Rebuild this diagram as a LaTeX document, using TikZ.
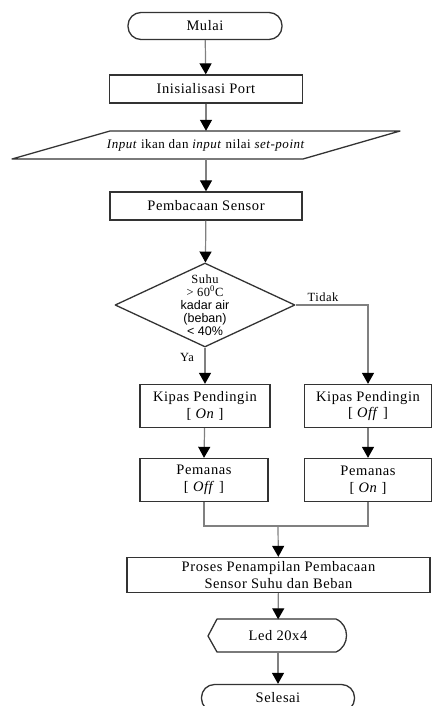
\documentclass[tikz,border=0pt]{standalone}
\usepackage{fontspec}
\setmainfont{Liberation Serif}[LetterSpace=4]
\newfontfamily\decsans{Liberation Sans}
\usetikzlibrary{arrows.meta,shapes.geometric,positioning}
\tikzset{
	flow/.style={draw=black!80, line width=1.3pt, align=center, inner sep=0pt, font=\fontsize{14.5}{16.5}\selectfont},
	process/.style={flow, rectangle},
	terminal/.style={flow, rectangle, rounded corners=13pt},
	plain/.style={align=center, inner sep=0pt, font=\fontsize{14.5}{16.5}\selectfont},
	outline/.style={draw=black!80, line width=1.3pt, line join=round},
	line/.style={draw=black!50, line width=1.2pt},
	arr/.style={line, -{Triangle[width=12pt, length=11pt, color=black]}},
}

\begin{document}
\begin{tikzpicture}[x=1pt, y=-1pt]
		\useasboundingbox (0,0) rectangle (432,706);

		\node[terminal, minimum width=154pt, minimum height=27pt] (start) at (205,26) {Mulai};
		\node[process, minimum width=193pt, minimum height=28pt] (init) at (206,89) {Inisialisasi Port};
		\draw[outline] (12,159) -- (110,131) -- (400,131) -- (303,159) -- cycle;
		\node[plain, minimum width=240pt, minimum height=28pt, font=\fontsize{13}{15}\selectfont] (inp) at (206,145) {\textit{Input} ikan dan \textit{input} nilai \textit{set-point}};
		\node[process, minimum width=192pt, minimum height=28pt] (read) at (206,206) {Pembacaan Sensor};

		\node[diamond, outline, minimum width=180pt, minimum height=84pt, inner sep=0pt] (dec) at (205,305) {};
		\node[plain, font=\fontsize{12.5}{13}\selectfont] (dectxt) at (dec.center) {Suhu\\ > 60\textsuperscript{0}C\\ {\decsans kadar air}\\ {\decsans (beban)}\\ {\decsans < 40\%}};
		\node[plain, font=\fontsize{12.5}{14}\selectfont] (lbltidak) at (323,297) {Tidak};
		\node[plain, font=\fontsize{12.5}{14}\selectfont] (lblya) at (187,357) {Ya};

		\node[process, minimum width=130pt, minimum height=43pt] (kon) at (205,406) {Kipas Pendingin\\ {[} \textit{On} {]}};
		\node[process, minimum width=127pt, minimum height=43pt] (koff) at (368,406) {Kipas Pendingin\\ {[} \textit{Off} {]}};
		\node[process, minimum width=128pt, minimum height=43pt] (hoff) at (204,480) {Pemanas\\ {[} \textit{Off} {]}};
		\node[process, minimum width=127pt, minimum height=43pt] (hon) at (368,480) {Pemanas\\ {[} \textit{On} {]}};
		\coordinate (mrg) at (278,526);

		\node[process, minimum width=303pt, minimum height=35pt] (proc) at (278.5,575) {Proses Penampilan Pembacaan\\ Sensor Suhu dan Beban};
		\draw[outline] (208,636) -- (217,619) -- (336,619) .. controls (350,625) and (350,646) .. (336,652) -- (217,652) -- cycle;
		\node[plain, minimum width=120pt, minimum height=33pt] (led) at (278,636) {Led 20x4};
		\node[terminal, minimum width=153pt, minimum height=27pt] (stop) at (278,698) {Selesai};

		\draw[arr] (start) -- (init);
		\draw[arr] (init) -- (inp);
		\draw[arr] (inp) -- (read);
		\draw[arr] (read) -- (dec);
		\draw[arr] (dec.south) -- (kon);
		\draw[arr] (dec.east) -| (koff.north);
		\draw[arr] (kon) -- (hoff.north);
		\draw[arr] (koff) -- (hon);
		\draw[line] (hoff.south) |- (mrg) -| (hon.south);
		\draw[arr] (mrg) -- (proc);
		\draw[arr] (proc) -- (led);
		\draw[arr] (led) -- (stop);
	\end{tikzpicture}
\end{document}
